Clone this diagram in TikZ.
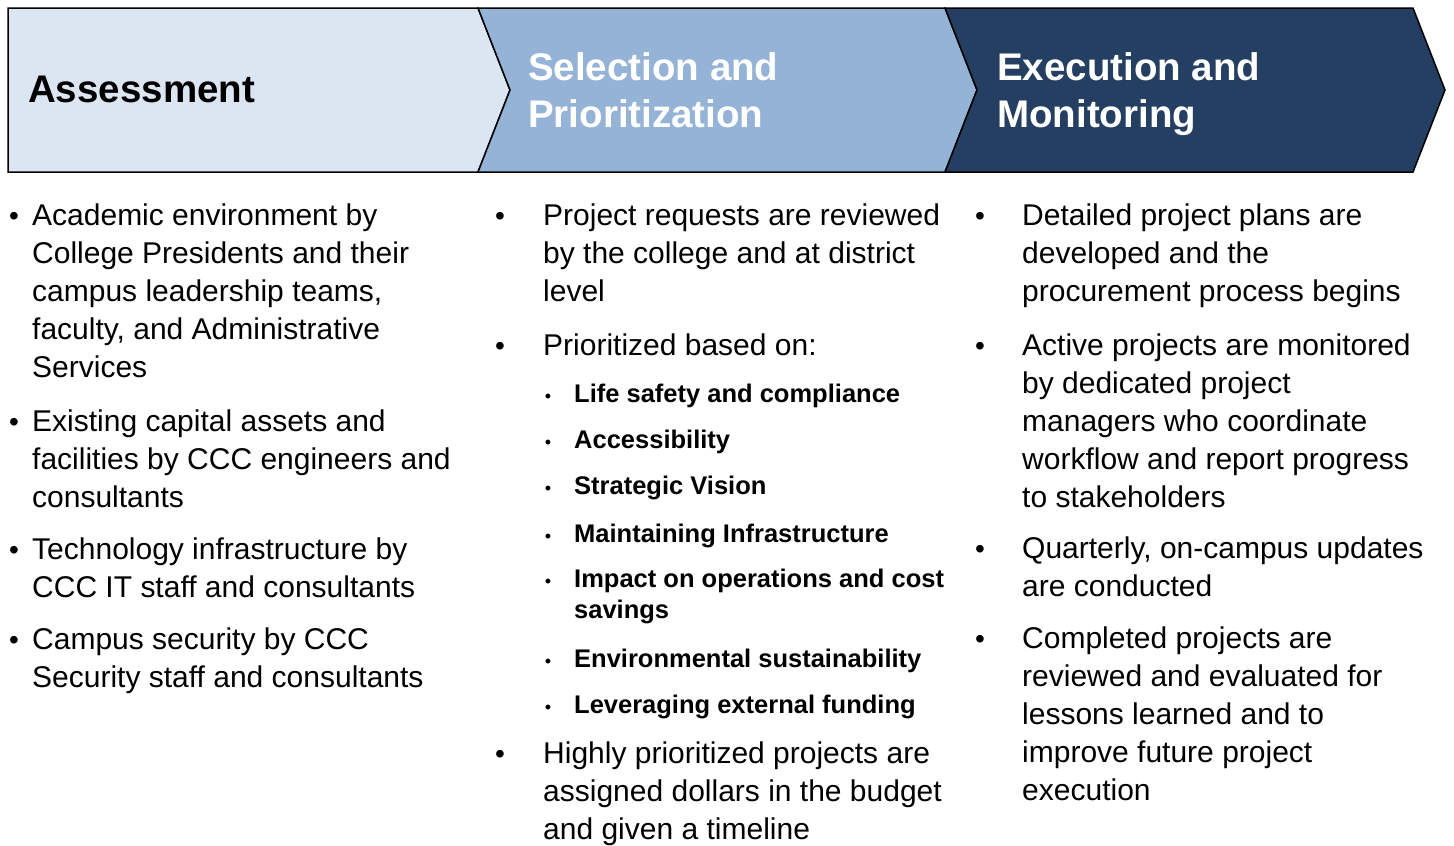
\documentclass[tikz,border=0pt]{standalone}
\usepackage{fontspec}
\setmainfont{Liberation Sans}
\usepackage{xcolor}
\definecolor{lightblue}{HTML}{DCE6F2}
\definecolor{midblue}{HTML}{95B3D7}
\definecolor{darkblue}{HTML}{243F61}

\begin{document}
\begin{tikzpicture}[x=1pt,y=-1pt,
	head/.style={anchor=base west,align=left,inner sep=0pt,font=\bfseries\fontsize{38.5}{47}\selectfont},
	item/.style={anchor=base west,align=left,inner sep=0pt,font=\fontsize{30}{38}\selectfont},
	subitem/.style={anchor=base west,align=left,inner sep=0pt,font=\bfseries\fontsize{25.5}{31}\selectfont},
	dot/.style={anchor=base,inner sep=0pt,font=\fontsize{28}{30}\selectfont},
	subdot/.style={anchor=base,inner sep=0pt,font=\fontsize{18}{20}\selectfont}]
	\useasboundingbox (0,0) rectangle (1454,846);
	% chevrons
	\draw [line width=1.5pt,fill=lightblue] (8,8) -- (478,8) -- (510,90) -- (478,172) -- (8,172) -- cycle;
	\draw [line width=1.5pt,fill=midblue] (478,8) -- (945,8) -- (977,90) -- (945,172) -- (478,172) -- (510,90) -- cycle;
	\draw [line width=1.5pt,fill=darkblue] (945,8) -- (1413,8) -- (1445,90) -- (1413,172) -- (945,172) -- (977,90) -- cycle;
	% multi-line nodes sit on the baseline of their last line
	\node (assess) at (28,102) [head] {Assessment};
	\node (select) at (528,127) [head,text=white] {Selection and\\Prioritization};
	\node (exec) at (997,127) [head,text=white] {Execution and\\Monitoring};
	% assessment column
	\node (a1dot) at (14,225) [dot] {\textbullet};
	\node (a1) at (32,377) [item] {Academic environment by\\College Presidents and their\\campus leadership teams,\\faculty, and Administrative\\Services};
	\node (a2dot) at (14,431) [dot] {\textbullet};
	\node (a2) at (32,507) [item] {Existing capital assets and\\facilities by CCC engineers and\\consultants};
	\node (a3dot) at (14,559) [dot] {\textbullet};
	\node (a3) at (32,597) [item] {Technology infrastructure by\\CCC IT staff and consultants};
	\node (a4dot) at (14,649) [dot] {\textbullet};
	\node (a4) at (32,687) [item] {Campus security by CCC\\Security staff and consultants};
	% selection column
	\node (s1dot) at (500,225) [dot] {\textbullet};
	\node (s1) at (543,301) [item] {Project requests are reviewed\\by the college and at district\\level};
	\node (s2dot) at (500,355) [dot] {\textbullet};
	\node (s2) at (543,355) [item] {Prioritized based on:};
	\node (p1dot) at (548,402) [subdot] {\textbullet};
	\node (p1) at (574,402) [subitem] {Life safety and compliance};
	\node (p2dot) at (548,448) [subdot] {\textbullet};
	\node (p2) at (574,448) [subitem] {Accessibility};
	\node (p3dot) at (548,494) [subdot] {\textbullet};
	\node (p3) at (574,494) [subitem] {Strategic Vision};
	\node (p4dot) at (548,542) [subdot] {\textbullet};
	\node (p4) at (574,542) [subitem] {Maintaining Infrastructure};
	\node (p5dot) at (548,587) [subdot] {\textbullet};
	\node (p5) at (574,618) [subitem] {Impact on operations and cost\\savings};
	\node (p6dot) at (548,667) [subdot] {\textbullet};
	\node (p6) at (574,667) [subitem] {Environmental sustainability};
	\node (p7dot) at (548,713) [subdot] {\textbullet};
	\node (p7) at (574,713) [subitem] {Leveraging external funding};
	\node (s3dot) at (500,763) [dot] {\textbullet};
	\node (s3) at (543,839) [item] {Highly prioritized projects are\\assigned dollars in the budget\\and given a timeline};
	% execution column
	\node (e1dot) at (980,225) [dot] {\textbullet};
	\node (e1) at (1022,301) [item] {Detailed project plans are\\developed and the\\procurement process begins};
	\node (e2dot) at (980,355) [dot] {\textbullet};
	\node (e2) at (1022,507) [item] {Active projects are monitored\\by dedicated project\\managers who coordinate\\workflow and report progress\\to stakeholders};
	\node (e3dot) at (980,558) [dot] {\textbullet};
	\node (e3) at (1022,596) [item] {Quarterly, on-campus updates\\are conducted};
	\node (e4dot) at (980,648) [dot] {\textbullet};
	\node (e4) at (1022,800) [item] {Completed projects are\\reviewed and evaluated for\\lessons learned and to\\improve future project\\execution};
\end{tikzpicture}
\end{document}
